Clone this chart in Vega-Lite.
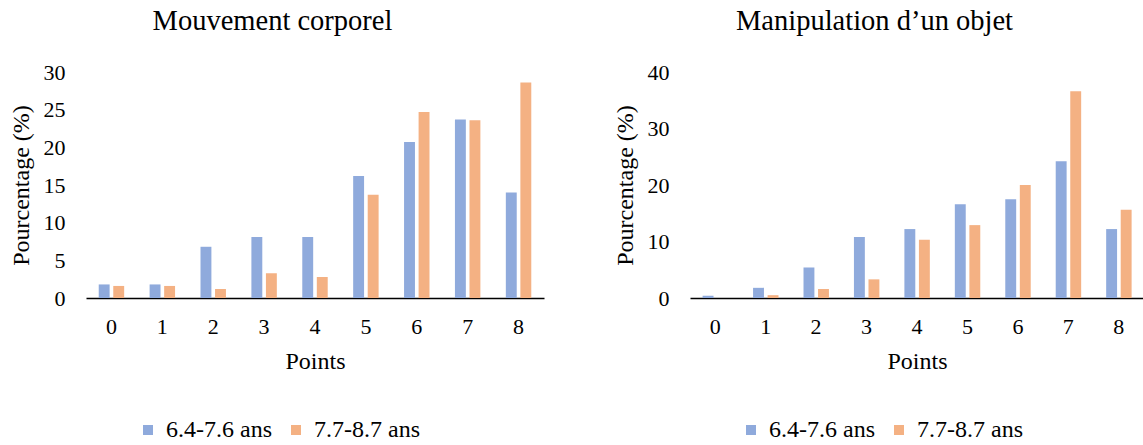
{
  "$schema": "https://vega.github.io/schema/vega-lite/v6.json",
  "background": "white",
  "padding": {"left": 9, "top": 6, "right": 0, "bottom": 0},
  "config": {
    "font": "Liberation Serif",
    "view": {"stroke": null},
    "concat": {"spacing": 69},
    "title": {"font": "Liberation Serif", "fontSize": 28.5, "fontWeight": "normal", "color": "black", "anchor": "middle", "frame": "bounds", "offset": 26, "dx": -4},
    "axis": {"ticks": false, "grid": false, "labelFont": "Liberation Serif", "labelFontSize": 22, "titleFont": "Liberation Serif", "titleFontSize": 24, "titleFontWeight": "normal", "labelColor": "black", "titleColor": "black"},
    "legend": {"labelFont": "Liberation Serif", "labelFontSize": 24, "labelColor": "black"}
  },
  "data": {
    "values": [
      {"panel": "A", "points": 0, "group": "6.4-7.6 ans", "value": 1.8},
      {"panel": "A", "points": 1, "group": "6.4-7.6 ans", "value": 1.8},
      {"panel": "A", "points": 2, "group": "6.4-7.6 ans", "value": 6.8},
      {"panel": "A", "points": 3, "group": "6.4-7.6 ans", "value": 8.1},
      {"panel": "A", "points": 4, "group": "6.4-7.6 ans", "value": 8.1},
      {"panel": "A", "points": 5, "group": "6.4-7.6 ans", "value": 16.2},
      {"panel": "A", "points": 6, "group": "6.4-7.6 ans", "value": 20.7},
      {"panel": "A", "points": 7, "group": "6.4-7.6 ans", "value": 23.7},
      {"panel": "A", "points": 8, "group": "6.4-7.6 ans", "value": 14.0},
      {"panel": "A", "points": 0, "group": "7.7-8.7 ans", "value": 1.6},
      {"panel": "A", "points": 1, "group": "7.7-8.7 ans", "value": 1.6},
      {"panel": "A", "points": 2, "group": "7.7-8.7 ans", "value": 1.2},
      {"panel": "A", "points": 3, "group": "7.7-8.7 ans", "value": 3.3},
      {"panel": "A", "points": 4, "group": "7.7-8.7 ans", "value": 2.8},
      {"panel": "A", "points": 5, "group": "7.7-8.7 ans", "value": 13.7},
      {"panel": "A", "points": 6, "group": "7.7-8.7 ans", "value": 24.7},
      {"panel": "A", "points": 7, "group": "7.7-8.7 ans", "value": 23.6},
      {"panel": "A", "points": 8, "group": "7.7-8.7 ans", "value": 28.6},
      {"panel": "B", "points": 0, "group": "6.4-7.6 ans", "value": 0.4},
      {"panel": "B", "points": 1, "group": "6.4-7.6 ans", "value": 1.8},
      {"panel": "B", "points": 2, "group": "6.4-7.6 ans", "value": 5.4},
      {"panel": "B", "points": 3, "group": "6.4-7.6 ans", "value": 10.8},
      {"panel": "B", "points": 4, "group": "6.4-7.6 ans", "value": 12.2},
      {"panel": "B", "points": 5, "group": "6.4-7.6 ans", "value": 16.6},
      {"panel": "B", "points": 6, "group": "6.4-7.6 ans", "value": 17.5},
      {"panel": "B", "points": 7, "group": "6.4-7.6 ans", "value": 24.2},
      {"panel": "B", "points": 8, "group": "6.4-7.6 ans", "value": 12.2},
      {"panel": "B", "points": 0, "group": "7.7-8.7 ans", "value": 0},
      {"panel": "B", "points": 1, "group": "7.7-8.7 ans", "value": 0.5},
      {"panel": "B", "points": 2, "group": "7.7-8.7 ans", "value": 1.6},
      {"panel": "B", "points": 3, "group": "7.7-8.7 ans", "value": 3.3},
      {"panel": "B", "points": 4, "group": "7.7-8.7 ans", "value": 10.3},
      {"panel": "B", "points": 5, "group": "7.7-8.7 ans", "value": 12.9},
      {"panel": "B", "points": 6, "group": "7.7-8.7 ans", "value": 20.0},
      {"panel": "B", "points": 7, "group": "7.7-8.7 ans", "value": 36.6},
      {"panel": "B", "points": 8, "group": "7.7-8.7 ans", "value": 15.6}
    ]
  },
  "hconcat": [
    {
      "title": {"text": "Mouvement corporel"},
      "width": 458,
      "height": 226,
      "transform": [{"filter": "datum.panel === 'A'"}],
      "mark": {"type": "bar"},
      "encoding": {
        "x": {"field": "points", "type": "ordinal", "scale": {"paddingInner": 0.5, "paddingOuter": 0.25}, "axis": {"title": "Points", "labelAngle": 0, "domainColor": "black", "domainWidth": 1.5, "labelPadding": 18, "titlePadding": 12}},
        "xOffset": {"field": "group", "type": "nominal", "scale": {"paddingInner": 0.25, "paddingOuter": 0}},
        "y": {"field": "value", "type": "quantitative", "scale": {"domain": [0, 30], "nice": false}, "axis": {"title": "Pourcentage (%)", "values": [0, 5, 10, 15, 20, 25, 30], "domain": false, "labelPadding": 21, "titlePadding": 10}},
        "color": {"field": "group", "type": "nominal", "scale": {"domain": ["6.4-7.6 ans", "7.7-8.7 ans"], "range": ["#8FAADC", "#F4B183"]}, "legend": {"title": null, "orient": "none", "direction": "horizontal", "legendX": 50, "legendY": 346, "symbolType": "square", "symbolSize": 100, "symbolStrokeWidth": 0, "symbolOpacity": 1, "padding": 0, "labelOffset": 6, "columnPadding": 12}}
      }
    },
    {
      "title": {"text": "Manipulation d’un objet"},
      "width": 454,
      "height": 226,
      "transform": [{"filter": "datum.panel === 'B'"}],
      "mark": {"type": "bar"},
      "encoding": {
        "x": {"field": "points", "type": "ordinal", "scale": {"paddingInner": 0.5, "paddingOuter": 0.25}, "axis": {"title": "Points", "labelAngle": 0, "domainColor": "black", "domainWidth": 1.5, "labelPadding": 18, "titlePadding": 12}},
        "xOffset": {"field": "group", "type": "nominal", "scale": {"paddingInner": 0.25, "paddingOuter": 0}},
        "y": {"field": "value", "type": "quantitative", "scale": {"domain": [0, 40], "nice": false}, "axis": {"title": "Pourcentage (%)", "values": [0, 10, 20, 30, 40], "domain": false, "labelPadding": 21, "titlePadding": 10}},
        "color": {"field": "group", "type": "nominal", "scale": {"domain": ["6.4-7.6 ans", "7.7-8.7 ans"], "range": ["#8FAADC", "#F4B183"]}, "legend": {"title": null, "orient": "none", "direction": "horizontal", "legendX": 49, "legendY": 346, "symbolType": "square", "symbolSize": 100, "symbolStrokeWidth": 0, "symbolOpacity": 1, "padding": 0, "labelOffset": 6, "columnPadding": 12}}
      }
    }
  ],
  "resolve": {"scale": {"color": "independent", "y": "independent", "x": "independent"}, "legend": {"color": "independent"}}
}
